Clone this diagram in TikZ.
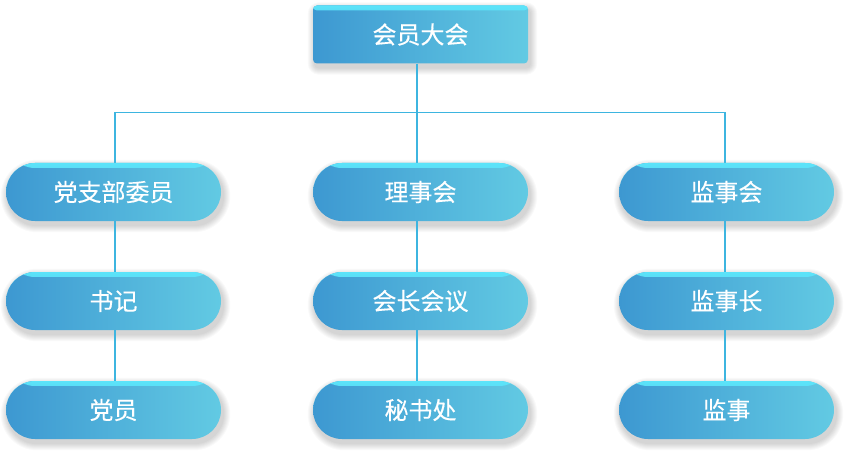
\documentclass[tikz,border=0pt]{standalone}
\usepackage{fontspec}
\setmainfont{Noto Sans CJK SC}[FakeBold=0.3]
\usetikzlibrary{fadings,backgrounds}
\definecolor{boxL}{HTML}{3D98D1}
\definecolor{boxR}{HTML}{62CAE3}
\definecolor{hilite}{HTML}{5CE4FA}
\definecolor{linec}{HTML}{3DB5E0}
\tikzset{
  basebox/.style={draw=none, left color=boxL, right color=boxR,
    minimum width=215pt, minimum height=58pt, inner sep=0pt,
    text=white, font=\fontsize{24}{28}\selectfont,
    path picture={\fill[hilite, path fading=south] (path picture bounding box.north west) rectangle ([yshift=-5pt]path picture bounding box.north east);}},
  topbox/.style={basebox, rectangle, rounded corners=4pt},
  pill/.style={basebox, rectangle, rounded corners=29pt},
  conn/.style={draw=linec, line width=1.8pt},
  shadowlayer/.style={fill=black, opacity=0.022}
}
\begin{document}
\begin{tikzpicture}[x=1pt,y=-1pt]
\useasboundingbox (0,0) rectangle (848,457);
\node[topbox] (top) at (420.5,34.5) {会员大会};
\node[pill] (a1) at (113.5,192) {党支部委员};
\node[pill] (b1) at (420.5,192) {理事会};
\node[pill] (c1) at (726.5,192) {监事会};
\node[pill] (a2) at (113.5,301) {书记};
\node[pill] (b2) at (420.5,301) {会长会议};
\node[pill] (c2) at (726.5,301) {监事长};
\node[pill] (a3) at (113.5,410) {党员};
\node[pill] (b3) at (420.5,410) {秘书处};
\node[pill] (c3) at (726.5,410) {监事};
\coordinate (hub) at (417,112.5);
\begin{scope}[on background layer]
\fill[white] (0,0) rectangle (848,457);
\foreach \k in {1,...,7}{
  \fill[shadowlayer, rounded corners=4pt+\k pt]
    ([xshift=2pt-\k pt, yshift=\k pt-4pt]top.north west) rectangle ([xshift=2pt+\k pt, yshift=-\k pt-4pt]top.south east);
}
\foreach \n in {a1,b1,c1,a2,b2,c2,a3,b3,c3}{
  \foreach \k in {1,...,7}{
    \fill[shadowlayer, rounded corners=29pt+\k pt]
      ([xshift=2pt-\k pt, yshift=\k pt-4pt]\n.north west) rectangle ([xshift=2pt+\k pt, yshift=-\k pt-4pt]\n.south east);
  }
}
\draw[conn] ([xshift=-3.5pt]top.south) -- (hub);
\draw[conn] ([xshift=1.5pt]a1.north) |- (hub) -| ([xshift=-1.5pt]c1.north);
\draw[conn] (hub) -- ([xshift=-3.5pt]b1.north);
\draw[conn] ([xshift=1.5pt]a1.south) -- ([xshift=1.5pt]a2.north);
\draw[conn] ([xshift=1.5pt]a2.south) -- ([xshift=1.5pt]a3.north);
\draw[conn] ([xshift=-3.5pt]b1.south) -- ([xshift=-3.5pt]b2.north);
\draw[conn] ([xshift=-3.5pt]b2.south) -- ([xshift=-3.5pt]b3.north);
\draw[conn] ([xshift=-1.5pt]c1.south) -- ([xshift=-1.5pt]c2.north);
\draw[conn] ([xshift=-1.5pt]c2.south) -- ([xshift=-1.5pt]c3.north);
\end{scope}
\end{tikzpicture}
\end{document}
